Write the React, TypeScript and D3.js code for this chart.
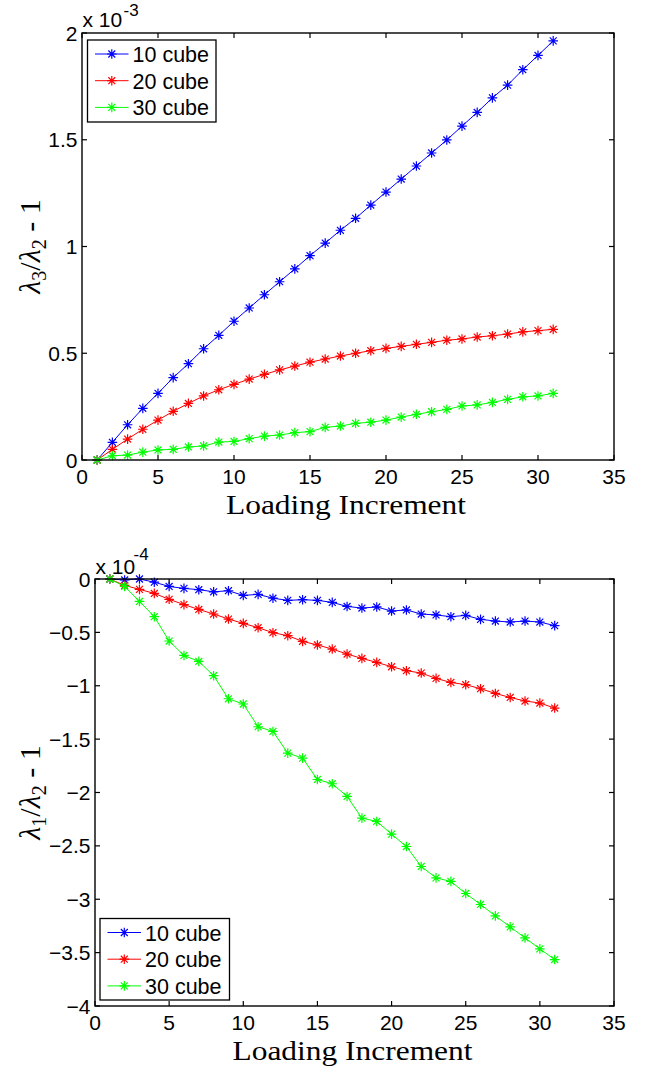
import React from "react";
import * as d3 from "d3";

const increments = [1,2,3,4,5,6,7,8,9,10,11,12,13,14,15,16,17,18,19,20,21,22,23,24,25,26,27,28,29,30,31];
const seriesNames = ["10 cube", "20 cube", "30 cube"];
const seriesColors = ["#0000ff", "#ff0000", "#00ff00"];

// top chart values (x 10^-3)
const top10 = [0,0.083,0.165,0.242,0.312,0.386,0.451,0.521,0.584,0.650,0.712,0.774,0.835,0.895,0.957,1.016,1.076,1.132,1.194,1.255,1.316,1.377,1.438,1.499,1.564,1.628,1.696,1.756,1.828,1.895,1.963];
const top20 = [0,0.050,0.098,0.144,0.187,0.228,0.265,0.300,0.329,0.354,0.379,0.401,0.422,0.440,0.458,0.473,0.487,0.500,0.512,0.523,0.532,0.542,0.551,0.561,0.567,0.576,0.582,0.590,0.600,0.606,0.612];
const top30 = [0,0.020,0.023,0.037,0.047,0.050,0.061,0.066,0.084,0.087,0.100,0.112,0.117,0.128,0.133,0.153,0.159,0.172,0.177,0.187,0.201,0.214,0.226,0.237,0.253,0.258,0.270,0.284,0.296,0.300,0.312];

// bottom chart values (x 10^-4)
const bot10 = [0,-0.009,0,-0.03,-0.07,-0.088,-0.10,-0.12,-0.11,-0.154,-0.144,-0.18,-0.20,-0.194,-0.20,-0.219,-0.257,-0.272,-0.262,-0.30,-0.29,-0.328,-0.337,-0.353,-0.341,-0.378,-0.394,-0.403,-0.394,-0.403,-0.437];
const bot20 = [0,-0.06,-0.097,-0.135,-0.19,-0.24,-0.285,-0.328,-0.375,-0.416,-0.456,-0.503,-0.531,-0.584,-0.618,-0.656,-0.703,-0.744,-0.781,-0.822,-0.859,-0.881,-0.931,-0.969,-0.99,-1.028,-1.072,-1.11,-1.143,-1.162,-1.209];
const bot30 = [0,-0.07,-0.21,-0.353,-0.581,-0.716,-0.772,-0.906,-1.122,-1.171,-1.384,-1.428,-1.631,-1.678,-1.878,-1.918,-2.037,-2.24,-2.271,-2.39,-2.506,-2.693,-2.80,-2.833,-2.946,-3.049,-3.156,-3.259,-3.362,-3.465,-3.565];

const xTicks = [0,5,10,15,20,25,30,35];
const topYTicks = [0,0.5,1,1.5,2];
const topYTickLabels = ["0","0.5","1","1.5","2"];
const botYTicks = [0,-0.5,-1,-1.5,-2,-2.5,-3,-3.5,-4];
const botYTickLabels = ["0","\u22120.5","\u22121","\u22121.5","\u22122","\u22122.5","\u22123","\u22123.5","\u22124"];

const SANS = "'Liberation Sans', Arial, Helvetica, sans-serif";
const SERIF = "'Liberation Serif', 'Times New Roman', serif";

function Star({ x, y, color }: { x: number; y: number; color: string }) {
  const r = 4.8;
  const d = r * 0.72;
  return (
    <path
      d={`M${x - r},${y}L${x + r},${y}M${x},${y - r}L${x},${y + r}M${x - d},${y - d}L${x + d},${y + d}M${x - d},${y + d}L${x + d},${y - d}`}
      stroke={color}
      strokeWidth={1.2}
      fill="none"
    />
  );
}

type PanelProps = {
  left: number; right: number; top: number; bottom: number;
  yDomain: [number, number];
  yTicks: number[]; yTickLabels: string[];
  series: number[][];
  exponent: string;
  expDx: number; expDy: number; baseDy: number;
  ySub1: string;
  legendBox: { x: number; y: number; w: number; h: number };
};

function Panel(p: PanelProps) {
  const x = d3.scaleLinear().domain([0, 35]).range([p.left, p.right]);
  const y = d3.scaleLinear().domain(p.yDomain).range([p.bottom, p.top]);
  const line = d3.line<number>().x((_, i) => x(increments[i])).y((v) => y(v));
  const tl = 5;
  const lb = p.legendBox;
  const rowH = 26.7;
  return (
    <g>
      {xTicks.map((t) => (
        <g key={"xt" + t}>
          <line x1={x(t)} x2={x(t)} y1={p.bottom} y2={p.bottom - tl} stroke="#000" strokeWidth={1.2} />
          <line x1={x(t)} x2={x(t)} y1={p.top} y2={p.top + tl} stroke="#000" strokeWidth={1.2} />
          <text x={x(t)} y={p.bottom + 23.5} textAnchor="middle" fontFamily={SANS} fontSize={21}>{t}</text>
        </g>
      ))}
      {p.yTicks.map((t, i) => (
        <g key={"yt" + t}>
          <line x1={p.left} x2={p.left + tl} y1={y(t)} y2={y(t)} stroke="#000" strokeWidth={1.2} />
          <line x1={p.right} x2={p.right - tl} y1={y(t)} y2={y(t)} stroke="#000" strokeWidth={1.2} />
          <text x={p.left - 4.5} y={y(t) + 7.5} textAnchor="end" fontFamily={SANS} fontSize={21}>{p.yTickLabels[i]}</text>
        </g>
      ))}
      {p.series.map((s, si) => (
        <g key={"s" + si}>
          <path d={line(s) || ""} fill="none" stroke={seriesColors[si]} strokeWidth={1} />
          {s.map((v, i) => (
            <Star key={i} x={x(increments[i])} y={y(v)} color={seriesColors[si]} />
          ))}
        </g>
      ))}
      <rect x={p.left} y={p.top} width={p.right - p.left} height={p.bottom - p.top} fill="none" stroke="#000" strokeWidth={1.4} />
      <text x={p.left + 0.5} y={p.top + p.baseDy} fontFamily={SANS} fontSize={21}>x 10</text>
      <text x={p.left + p.expDx} y={p.top + p.expDy} fontFamily={SANS} fontSize={17}>{p.exponent}</text>
      <rect x={lb.x} y={lb.y} width={lb.w} height={lb.h} fill="#fff" stroke="#000" strokeWidth={1.3} />
      {seriesNames.map((n, i) => {
        const cy = lb.y + 14 + i * rowH;
        return (
          <g key={"lg" + i}>
            <line x1={lb.x + 7.5} x2={lb.x + 41} y1={cy} y2={cy} stroke={seriesColors[i]} strokeWidth={1} />
            <Star x={lb.x + 24.3} y={cy} color={seriesColors[i]} />
            <text x={lb.x + 45} y={cy + 8} fontFamily={SANS} fontSize={21.5}>{n}</text>
          </g>
        );
      })}
      <text x={(p.left + p.right) / 2 - 2} y={p.bottom + 53.5} textAnchor="middle" fontFamily={SERIF} fontSize={28} textLength={240} lengthAdjust="spacingAndGlyphs">Loading Increment</text>
      <text transform={`translate(40,${(p.top + p.bottom) / 2}) rotate(-90)`} textAnchor="middle" fontFamily={SERIF} fontSize={30}>
        <tspan fontStyle="italic">λ</tspan>
        <tspan fontSize={20} dy={6}>{p.ySub1}</tspan>
        <tspan dy={-6}>/</tspan>
        <tspan fontStyle="italic">λ</tspan>
        <tspan fontSize={20} dy={6}>2</tspan>
        <tspan dy={-6}> - 1</tspan>
      </text>
    </g>
  );
}

export default function App() {
  return (
    <svg width={645} height={1072} style={{ position: "absolute", left: 0, top: 0, background: "#fff" }}>
      <rect x={0} y={0} width={645} height={1072} fill="#fff" />
      <Panel
        left={82} right={614} top={33} bottom={460}
        yDomain={[0, 2]} yTicks={topYTicks} yTickLabels={topYTickLabels}
        series={[top10, top20, top30]} exponent="-3" expDx={41.5} expDy={-17} baseDy={-6.3} ySub1="3"
        legendBox={{ x: 87.5, y: 40, w: 128.5, h: 82 }}
      />
      <Panel
        left={95} right={614} top={579} bottom={1006}
        yDomain={[-4, 0]} yTicks={botYTicks} yTickLabels={botYTickLabels}
        series={[bot10, bot20, bot30]} exponent="-4" expDx={38.5} expDy={-19} baseDy={-5} ySub1="1"
        legendBox={{ x: 100, y: 918.5, w: 129.5, h: 81.5 }}
      />
    </svg>
  );
}
